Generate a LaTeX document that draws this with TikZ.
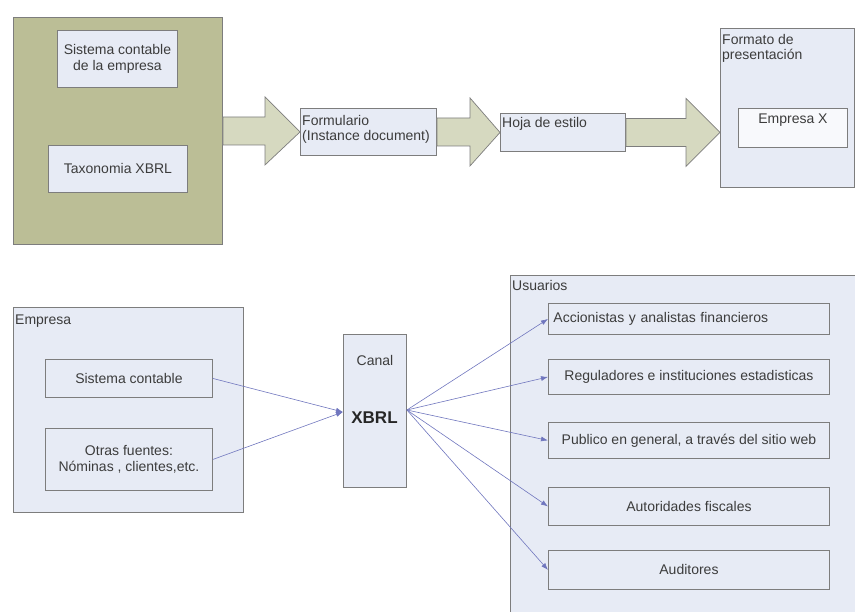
\documentclass[tikz,border=0pt]{standalone}
\usepackage{fontspec}
\setmainfont{Liberation Sans}
\usetikzlibrary{arrows.meta, calc}

\definecolor{olivebox}{RGB}{187,190,150}
\definecolor{arrowfill}{RGB}{214,217,192}
\definecolor{lavbox}{RGB}{231,235,245}
\definecolor{boxline}{RGB}{125,125,125}
\definecolor{linkblue}{RGB}{112,118,190}
\definecolor{txtgray}{RGB}{60,60,60}

\tikzset{
	panel/.style={draw=boxline, fill=lavbox, line width=0.9pt, inner sep=2pt, anchor=north west, text=txtgray},
	greenpanel/.style={panel, fill=olivebox},
	blockarrow/.style={draw=boxline, fill=arrowfill, line width=0.7pt},
	link/.style={draw=linkblue, line width=0.6pt, -{Latex[length=7pt,width=5pt]}},
	title/.style={anchor=north west, inner sep=2pt, text=txtgray, align=left}
}

% big grey-green arrow: from, head base x, to
\newcommand{\bigarrow}[3]{%
	\draw[blockarrow] let \p1=(#1), \p2=(#3) in
		(\x1,\y1+14pt) -- (#2pt,\y1+14pt) -- (#2pt,\y1+34pt) -- (\x2,\y2)
		-- (#2pt,\y1-34pt) -- (#2pt,\y1-14pt) -- (\x1,\y1-14pt) -- cycle;}

\begin{document}
\begin{tikzpicture}[x=1pt, y=-1pt, font=\fontsize{14}{15.5}\selectfont]
	\useasboundingbox (0,0) rectangle (855,612);

	% Upper flow
	\node[greenpanel, minimum width=209pt, minimum height=227pt] (green) at (13,17) {};
	\node[panel, minimum width=120pt, minimum height=57pt, align=center] (sistema) at (57,30) {Sistema contable\\de la empresa};
	\node[panel, minimum width=139pt, minimum height=47pt] (taxo) at (48,145) {Taxonomia XBRL};

	\node[panel, minimum width=136pt, minimum height=47pt] (form) at (300,108) {};
	\node[title] at ([yshift=-5pt]form.north west) {Formulario\\(Instance document)};
	\node[panel, minimum width=125pt, minimum height=38pt] (hoja) at (500,113) {};
	\node[title] at ([yshift=-2pt]hoja.north west) {Hoja de estilo};

	\node[panel, minimum width=134pt, minimum height=159pt] (formato) at (720,28) {};
	\node[title] at ([yshift=-4pt]formato.north west) {Formato de\\presentación};
	\node[panel, fill=white!70!lavbox, minimum width=109pt, minimum height=39pt] (empx) at (738,108) {};
	\node[anchor=north, text=txtgray] at ([yshift=-2pt]empx.north) {Empresa X};

	\bigarrow{green.east}{265}{form.west}
	\bigarrow{form.east}{470}{hoja.west}
	\bigarrow{hoja.east}{686}{formato.west |- hoja.east}

	% Lower flow
	\node[panel, minimum width=230pt, minimum height=205pt] (empresa) at (13,307) {};
	\node[title] at ([yshift=-6pt]empresa.north west) {Empresa};
	\node[panel, minimum width=167pt, minimum height=38pt] (sc) at (45,359) {Sistema contable};
	\node[panel, minimum width=167pt, minimum height=62pt, align=center] (otras) at (45,428) {Otras fuentes:\\Nóminas , clientes,etc.};

	\node[panel, minimum width=63pt, minimum height=153pt] (canal) at (343,334) {};
	\node[anchor=north, text=txtgray] at ([yshift=-18pt]canal.north) {Canal};
	\node[font=\fontsize{17}{19}\bfseries\selectfont, text=black!85] (xbrl) at (374.5,418) {XBRL};

	\node[panel, minimum width=345pt, minimum height=345pt] (usuarios) at (510,275) {};
	\node[title] at ([yshift=-3pt]usuarios.north west) {Usuarios};
	\node[panel, minimum width=281pt, minimum height=31pt, text width=271pt, align=left] (u1) at (548,303) {Accionistas y analistas financieros};
	\node[panel, minimum width=281pt, minimum height=35pt] (u2) at (548,359) {Reguladores e instituciones estadisticas};
	\node[panel, minimum width=281pt, minimum height=36pt] (u3) at (548,422) {Publico en general, a través del sitio web};
	\node[panel, minimum width=281pt, minimum height=38pt] (u4) at (548,487) {Autoridades fiscales};
	\node[panel, minimum width=281pt, minimum height=39pt] (u5) at (548,550) {Auditores};

	\coordinate (xin) at (canal.west |- 0,412);
	\coordinate (xout) at (canal.east |- 0,410);
	\draw[link] (sc.east) -- (xin);
	\draw[link] (otras.east) -- (xin);
	\foreach \u in {u1,u2,u3,u4,u5}
		\draw[link] (xout) -- (\u.west);
\end{tikzpicture}
\end{document}
